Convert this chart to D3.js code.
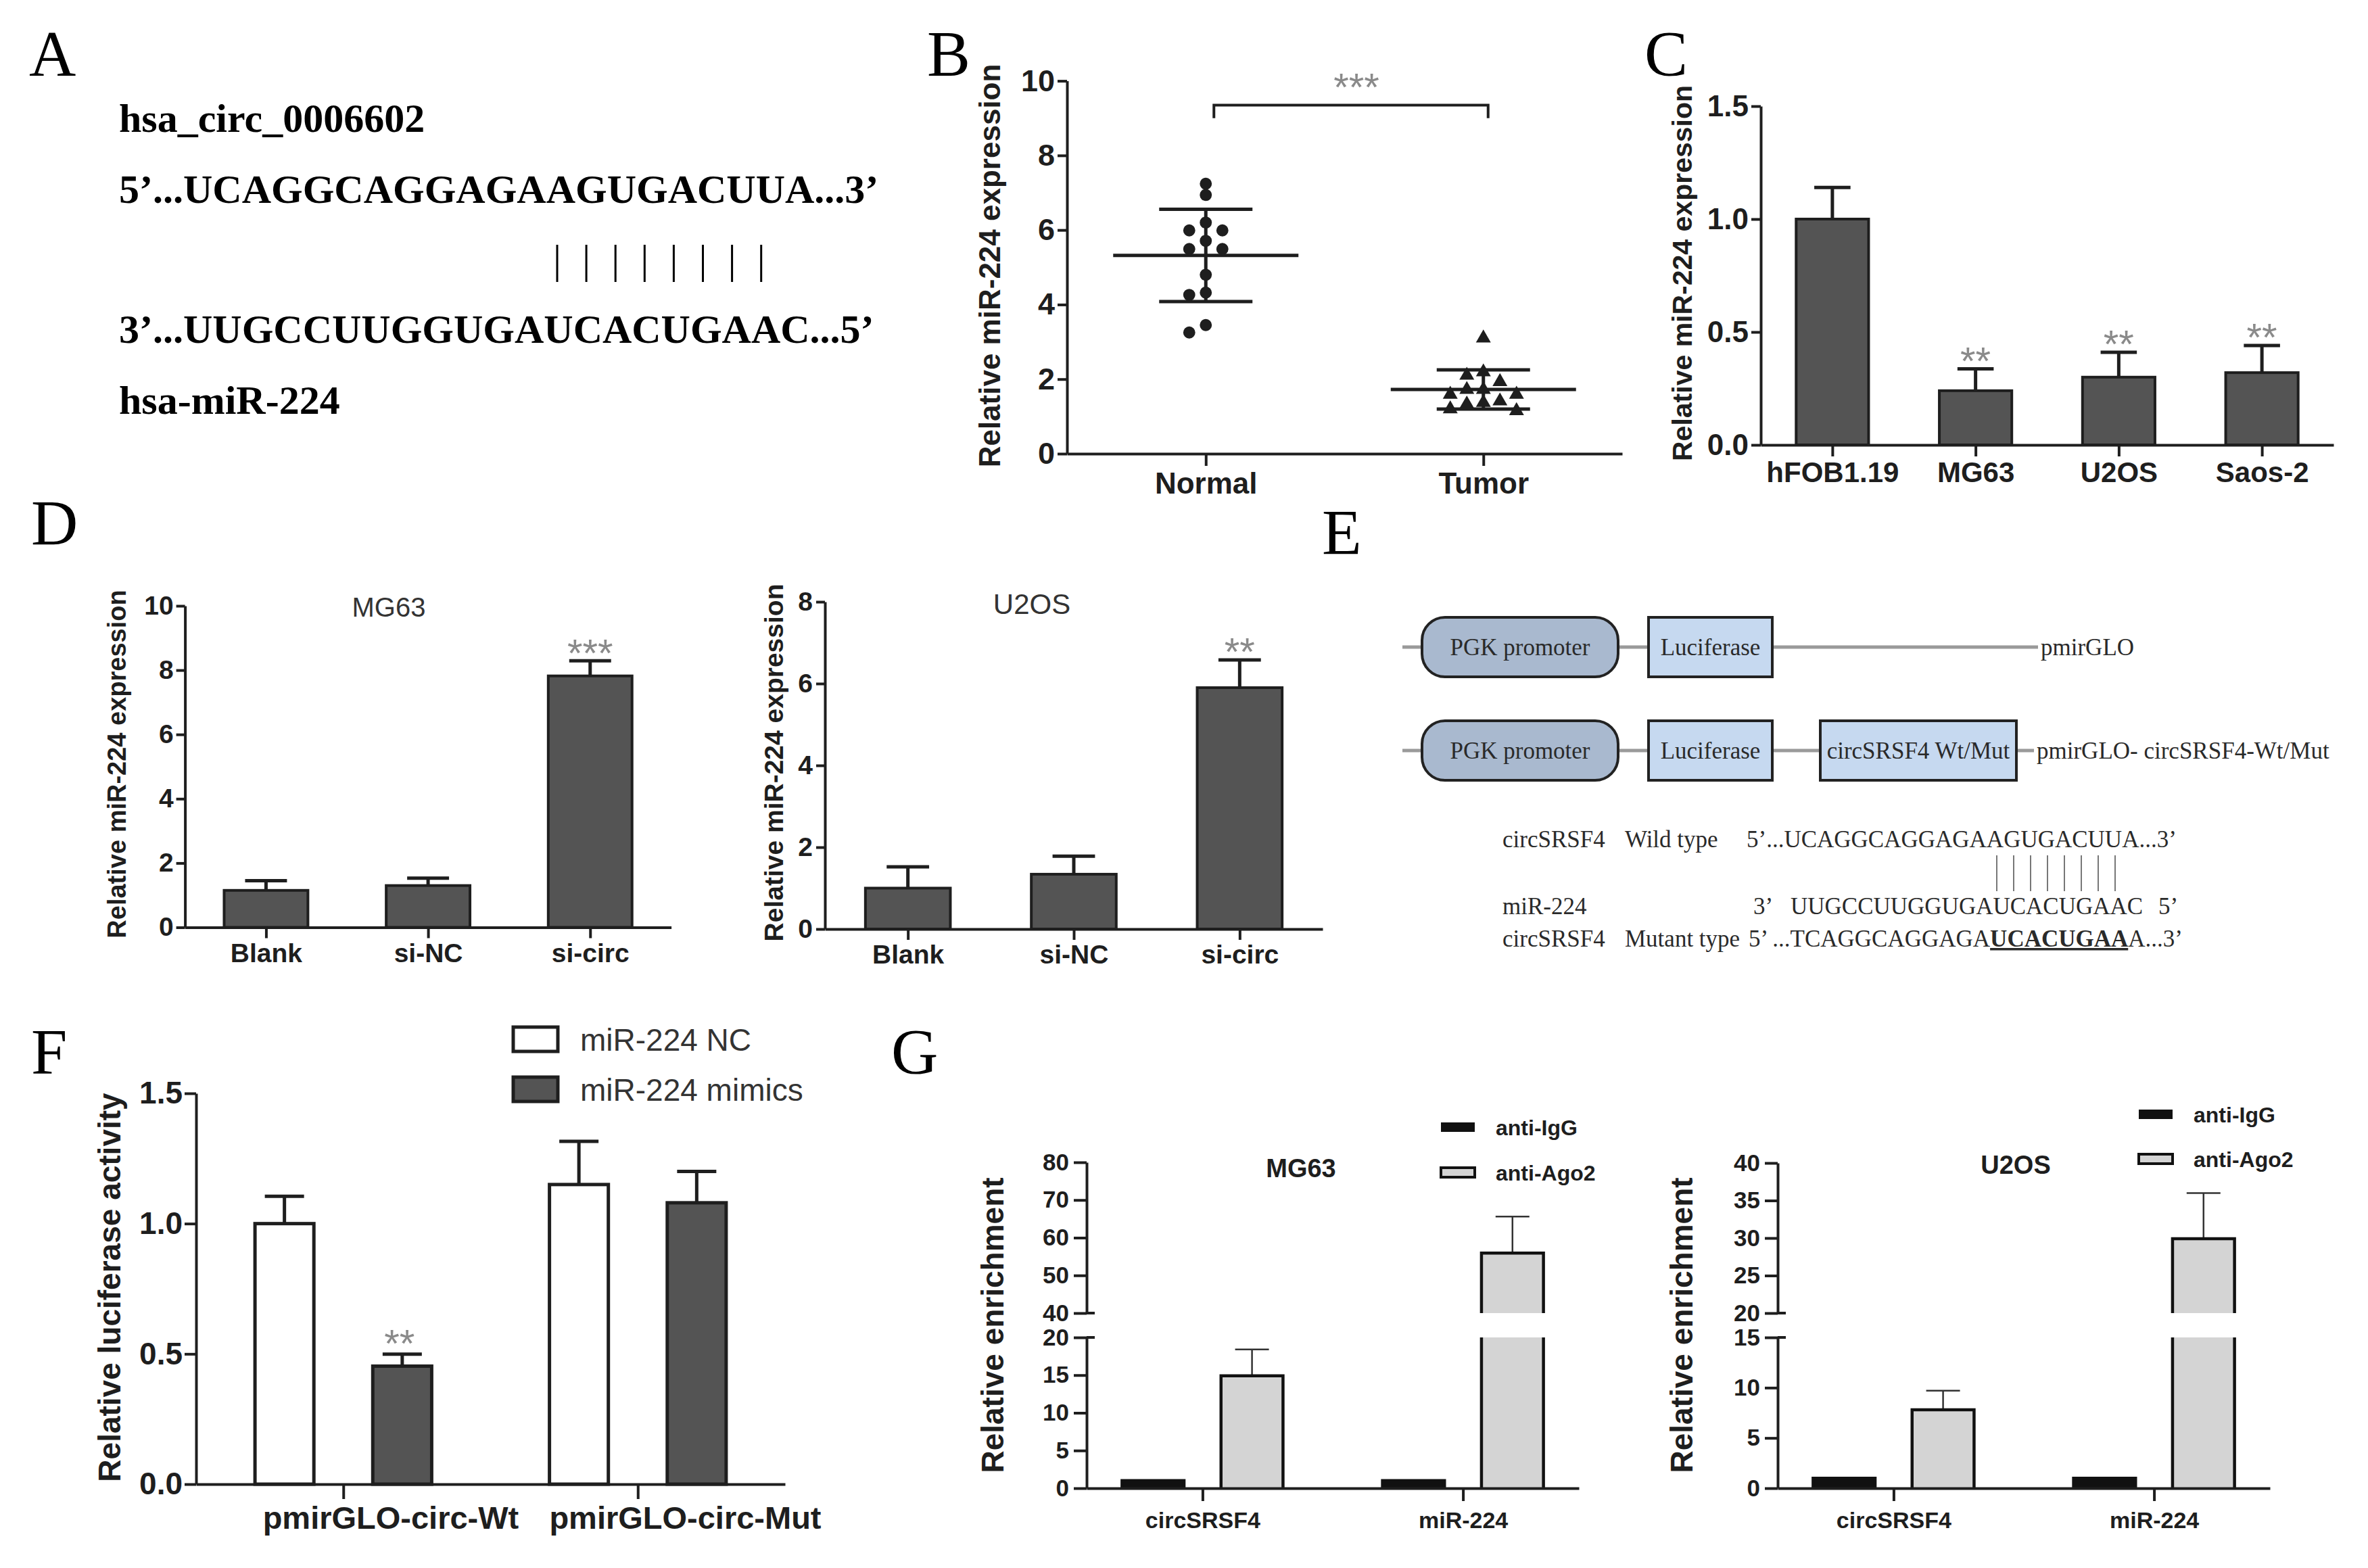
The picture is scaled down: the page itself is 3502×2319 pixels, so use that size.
<!DOCTYPE html>
<html>
<head>
<meta charset="utf-8">
<script src="https://cdn.jsdelivr.net/npm/d3@7"></script>
<style>
  body { margin: 0; background: #fff; }
</style>
</head>
<body>
<div id="main"></div>
<script>
/* ---------------- data ---------------- */
// A: circRNA / miRNA pairing
const circNameA = 'hsa_circ_0006602';
const circSeqA = '5’...UCAGGCAGGAGAAGUGACUUA...3’';
const mirSeqA = '3’...UUGCCUUGGUGAUCACUGAAC...5’';
const mirNameA = 'hsa-miR-224';
const pairCountA = 8;

// B: scatter, tissue samples
const groupsB = ['Normal', 'Tumor'];
const normalB = [7.24, 6.94, 6.2, 5.99, 5.99, 5.71, 5.49, 5.49, 4.8, 4.32, 4.26, 3.45, 3.25];
const tumorB = [3.1, 2.19, 2.1, 1.93, 1.72, 1.72, 1.59, 1.59, 1.41, 1.37, 1.33, 1.2, 1.15];
const ticksB = [0, 2, 4, 6, 8, 10];
const starsB = '***';

// C: cell lines
const cellsC = ['hFOB1.19', 'MG63', 'U2OS', 'Saos-2'];
const meanC = [1.0, 0.24, 0.30, 0.32];
const errC = [0.14, 0.097, 0.11, 0.12];
const starsC = ['', '**', '**', '**'];
const ticksC = [0, 0.5, 1.0, 1.5];

// D: knockdown
const groupsD = ['Blank', 'si-NC', 'si-circ'];
const mg63D = [1.15, 1.30, 7.82];
const mg63ErrD = [0.30, 0.23, 0.47];
const mg63StarsD = ['', '', '***'];
const mg63TicksD = [0, 2, 4, 6, 8, 10];
const u2osD = [1.0, 1.34, 5.9];
const u2osErrD = [0.52, 0.44, 0.68];
const u2osStarsD = ['', '', '**'];
const u2osTicksD = [0, 2, 4, 6, 8];

// E: reporter constructs
const vectorBlocksE = [['PGK promoter', 'Luciferase'], ['PGK promoter', 'Luciferase', 'circSRSF4 Wt/Mut']];
const vectorNamesE = ['pmirGLO', 'pmirGLO- circSRSF4-Wt/Mut'];
const wildRowE = ['circSRSF4', 'Wild type', '5’...UCAGGCAGGAGAAGUGACUUA...3’'];
const mirRowE = ['miR-224', '3’', 'UUGCCUUGGUGAUCACUGAAC', '5’'];
const mutRowE = ['circSRSF4', 'Mutant type', '5’ ...TCAGGCAGGAGA', 'UCACUGAA', 'A...3’'];
const pairCountE = 8;

// F: luciferase
const groupsF = ['pmirGLO-circ-Wt', 'pmirGLO-circ-Mut'];
const seriesF = ['miR-224 NC', 'miR-224 mimics'];
const ncF = [1.0, 1.15];
const ncErrF = [0.105, 0.166];
const mimicsF = [0.453, 1.08];
const mimicsErrF = [0.046, 0.12];
const starsF = [['', ''], ['**', '']];
const ticksF = [0, 0.5, 1.0, 1.5];

// G: RIP
const targetsG = ['circSRSF4', 'miR-224'];
const seriesG = ['anti-IgG', 'anti-Ago2'];
const mg63IgG = [1.0, 1.0];
const mg63IgGErr = [0, 0];
const mg63Ago2 = [14.9, 55.9];
const mg63Ago2Err = [3.5, 9.7];
const mg63LoTicks = [0, 5, 10, 15, 20];
const mg63HiTicks = [40, 50, 60, 70, 80];
const u2osIgG = [1.0, 1.0];
const u2osIgGErr = [0, 0];
const u2osAgo2 = [7.8, 29.9];
const u2osAgo2Err = [1.9, 6.1];
const u2osLoTicks = [0, 5, 10, 15];
const u2osHiTicks = [20, 25, 30, 35, 40];

/* ---------------- setup ---------------- */
const W = 3502, H = 2319;
const ink = '#1e1e1e', barGray = '#545454', starGray = '#8a8a8a';
const sans = '"Liberation Sans", Arial, sans-serif';
const serif = '"Liberation Serif", "Times New Roman", serif';

const svg = d3.select('#main').append('svg')
    .attr('width', W).attr('height', H)
    .style('background', '#fff');

function txt(t, x, y, fs, o) {
    o = o || {};
    return svg.append('text')
        .attr('x', x).attr('y', y)
        .attr('font-family', o.family || sans)
        .attr('font-size', fs)
        .attr('font-weight', o.weight || 'normal')
        .attr('text-anchor', o.anchor || 'start')
        .attr('fill', o.fill || ink)
        .text(t);
}

function yLabel(t, cx, cy, fs) {
    svg.append('text')
        .attr('transform', `translate(${cx},${cy}) rotate(-90)`)
        .attr('text-anchor', 'middle').attr('dy', '0.35em')
        .attr('font-family', sans).attr('font-weight', 'bold')
        .attr('font-size', fs).attr('fill', ink)
        .text(t);
}

function stars(t, cx, cy) {
    const fs = 58;
    txt(t, cx, cy + 0.575 * fs, fs, { anchor: 'middle', fill: starGray });
}

function styleAxis(g, fs, weight) {
    g.attr('font-family', sans).attr('font-size', fs)
     .attr('font-weight', weight || 'bold').attr('color', ink);
    g.select('.domain').attr('stroke-width', 4);
    g.selectAll('.tick line').attr('stroke-width', 4);
}

function yAxis(scale, ticks, fmt, x, fs, len, pad) {
    const g = svg.append('g').attr('transform', `translate(${x},0)`)
        .call(d3.axisLeft(scale).tickValues(ticks).tickFormat(fmt)
            .tickSize(len).tickSizeOuter(0).tickPadding(pad));
    styleAxis(g, fs);
    return g;
}

function xAxis(scale, y, fs, len, pad) {
    const g = svg.append('g').attr('transform', `translate(0,${y})`)
        .call(d3.axisBottom(scale).tickSize(len).tickSizeOuter(0).tickPadding(pad));
    styleAxis(g, fs);
    return g;
}

/* ---------------- panel letters ---------------- */
const letters = ['A', 'B', 'C', 'D', 'E', 'F', 'G'];
const letterPos = [[43, 112], [1371, 112], [2432, 112], [46, 806], [1955, 820], [46, 1588], [1318, 1588]];
letters.forEach((l, i) => txt(l, letterPos[i][0], letterPos[i][1], 96, { family: serif, fill: '#000' }));

/* ---------------- A ---------------- */
const aOpt = { family: serif, weight: 'bold', fill: '#000' };
txt(circNameA, 176, 195, 60, aOpt);
txt(circSeqA, 176, 300, 60, aOpt);
txt(mirSeqA, 176, 507, 60, aOpt);
txt(mirNameA, 176, 612, 60, aOpt);
svg.append('g').selectAll('line')
    .data(d3.range(pairCountA))
    .join('line')
    .attr('x1', i => 824 + i * 43.1).attr('x2', i => 824 + i * 43.1)
    .attr('y1', 362).attr('y2', 417)
    .attr('stroke', '#000').attr('stroke-width', 3);

/* ---------------- B ---------------- */
(function () {
    const y = d3.scaleLinear().domain([0, 10]).range([671, 119.6]);
    const x = d3.scalePoint().domain(groupsB).range([1578, 2399]).padding(0.5);
    const g = svg.append('g');

    function swarm(vals, gap) {
        const placed = [];
        return vals.map(v => {
            const py = y(v);
            for (let k = 0; ; k++) {
                const s = k === 0 ? 0 : (k % 2 ? -Math.ceil(k / 2) : k / 2);
                if (!placed.some(p => p.s === s && Math.abs(p.py - py) < gap)) {
                    placed.push({ s, py });
                    return { s, py };
                }
            }
        });
    }

    const sets = [normalB, tumorB];
    const shapes = [d3.symbolCircle, d3.symbolTriangle];
    sets.forEach((vals, gi) => {
        const cx = x(groupsB[gi]);
        const m = d3.mean(vals), sd = d3.deviation(vals);
        g.append('path')
            .attr('d', `M${cx - 137},${y(m)}H${cx + 137}` +
                `M${cx},${y(m - sd)}V${y(m + sd)}` +
                `M${cx - 69},${y(m - sd)}H${cx + 69}M${cx - 69},${y(m + sd)}H${cx + 69}`)
            .attr('stroke', ink).attr('stroke-width', 5).attr('fill', 'none');
        g.selectAll(null)
            .data(swarm(vals, gi ? 19 : 16))
            .join('path')
            .attr('transform', p => `translate(${cx + p.s * 24.5},${p.py})`)
            .attr('d', d3.symbol().type(shapes[gi]).size(gi ? 210 : 250))
            .attr('fill', ink);
    });

    // significance bracket
    const x1 = x(groupsB[0]) + 12, x2 = x(groupsB[1]) + 7;
    g.append('path')
        .attr('d', `M${x1},${y(9.0)}V${y(9.35)}H${x2}V${y(9.0)}`)
        .attr('stroke', ink).attr('stroke-width', 4).attr('fill', 'none');
    stars(starsB, (x1 + x2) / 2 + 8, y(9.35) - 40);

    yAxis(y, ticksB, d3.format('d'), 1578, 45, 14, 4);
    xAxis(x, 671, 44, 18, 10);
    yLabel('Relative miR-224 expression', 1464, 393, 44);
})();

/* ---------------- simple bar panels (C, D) ---------------- */
function simpleBars(o) {
    const y = d3.scaleLinear().domain(o.domain).range([o.yBottom, o.yTop]);
    const x = d3.scalePoint().domain(o.cats).range([o.axisX, o.xEnd]).padding(0.5);
    const bw = x.step() * o.barFrac, cw = bw * 0.5;
    const rows = o.cats.map((c, i) => ({ c, v: o.values[i], e: o.errors[i], s: o.stars[i] }));
    const g = svg.append('g');

    g.selectAll('path.err').data(rows).join('path')
        .attr('class', 'err')
        .attr('d', d => `M${x(d.c)},${y(d.v)}V${y(d.v + d.e)}M${x(d.c) - cw / 2},${y(d.v + d.e)}H${x(d.c) + cw / 2}`)
        .attr('stroke', ink).attr('stroke-width', 5).attr('fill', 'none');

    g.selectAll('rect').data(rows).join('rect')
        .attr('x', d => x(d.c) - bw / 2)
        .attr('width', bw)
        .attr('y', d => y(d.v))
        .attr('height', d => y(0) - y(d.v))
        .attr('fill', barGray).attr('stroke', ink).attr('stroke-width', 4);

    rows.filter(d => d.s).forEach(d => stars(d.s, x(d.c), y(d.v + d.e) - 25));

    yAxis(y, o.ticks, o.fmt, o.axisX, o.tickFs, o.yTick, o.yPad);
    xAxis(x, o.yBottom, o.catFs, o.xTick, o.xPad);
    yLabel('Relative miR-224 expression', o.ylx, o.yly, o.ylFs);
    if (o.title) txt(o.title, o.titleX, o.titleY, o.titleFs, { anchor: 'middle', fill: '#333' }).attr('dy', '0.36em');
}

simpleBars({
    cats: cellsC, values: meanC, errors: errC, stars: starsC,
    domain: [0, 1.5], ticks: ticksC, fmt: d3.format('.1f'),
    axisX: 2604, xEnd: 3451, yBottom: 658, yTop: 157, barFrac: 0.506,
    tickFs: 44, catFs: 42, yTick: 14, yPad: 4, xTick: 17, xPad: 8,
    ylx: 2488, yly: 404, ylFs: 41
});

simpleBars({
    cats: groupsD, values: mg63D, errors: mg63ErrD, stars: mg63StarsD,
    domain: [0, 10], ticks: mg63TicksD, fmt: d3.format('d'),
    axisX: 273.6, xEnd: 992.6, yBottom: 1371.5, yTop: 896, barFrac: 0.517,
    tickFs: 39, catFs: 39, yTick: 13, yPad: 4, xTick: 16, xPad: 8,
    ylx: 173, yly: 1130, ylFs: 38,
    title: 'MG63', titleX: 575, titleY: 898, titleFs: 40
});

simpleBars({
    cats: groupsD, values: u2osD, errors: u2osErrD, stars: u2osStarsD,
    domain: [0, 8], ticks: u2osTicksD, fmt: d3.format('d'),
    axisX: 1220, xEnd: 1956, yBottom: 1374, yTop: 890, barFrac: 0.512,
    tickFs: 39, catFs: 39, yTick: 13, yPad: 5, xTick: 16, xPad: 7,
    ylx: 1144, yly: 1128, ylFs: 39,
    title: 'U2OS', titleX: 1526, titleY: 893, titleFs: 42
});

/* ---------------- E ---------------- */
(function () {
    const rowY = [957, 1110];
    const lineEnd = [3014, 3008];
    const blockX = [[2103, 2393], [2438, 2621], [2692, 2982]];
    const bh = 88;
    const eOpt = { family: serif, fill: '#2a2a2a' };

    vectorBlocksE.forEach((blocks, r) => {
        const cy = rowY[r];
        svg.append('line')
            .attr('x1', 2074).attr('x2', lineEnd[r]).attr('y1', cy).attr('y2', cy)
            .attr('stroke', '#9a9a9a').attr('stroke-width', 5);
        blocks.forEach((b, i) => {
            const [bx0, bx1] = blockX[i];
            svg.append('rect')
                .attr('x', bx0).attr('y', cy - bh / 2)
                .attr('width', bx1 - bx0).attr('height', bh)
                .attr('rx', i === 0 ? 34 : 0)
                .attr('fill', i === 0 ? '#a9b9cf' : '#c6d9f0')
                .attr('stroke', '#222').attr('stroke-width', 4);
            txt(b, (bx0 + bx1) / 2, cy + 12, 35, Object.assign({ anchor: 'middle' }, eOpt));
        });
        txt(vectorNamesE[r], lineEnd[r] + 4, cy + 12, 35, eOpt);
    });

    txt(wildRowE[0], 2222, 1253, 35, eOpt);
    txt(wildRowE[1], 2403, 1253, 35, eOpt);
    txt(wildRowE[2], 2583, 1253, 35, eOpt);

    txt(mirRowE[0], 2222, 1352, 35, eOpt);
    txt(mirRowE[1], 2593, 1352, 35, eOpt);
    txt(mirRowE[2], 2648, 1352, 35, eOpt);
    txt(mirRowE[3], 3192, 1352, 35, eOpt);

    txt(mutRowE[0], 2222, 1400, 35, eOpt);
    txt(mutRowE[1], 2403, 1400, 35, eOpt);
    const mt = txt('', 2586, 1400, 35, eOpt);
    mt.append('tspan').text(mutRowE[2]);
    mt.append('tspan').text(mutRowE[3]).attr('font-weight', 'bold').attr('text-decoration', 'underline');
    mt.append('tspan').text(mutRowE[4]);

    svg.append('g').selectAll('line')
        .data(d3.range(pairCountE))
        .join('line')
        .attr('x1', i => 2953 + i * 25).attr('x2', i => 2953 + i * 25)
        .attr('y1', 1265).attr('y2', 1318)
        .attr('stroke', '#555').attr('stroke-width', 1.6);
})();

/* ---------------- F ---------------- */
(function () {
    const y = d3.scaleLinear().domain([0, 1.5]).range([2195, 1617]);
    const x = d3.scalePoint().domain(groupsF).range([290, 1161]).padding(0.5);
    const step = x.step();
    const sub = d3.scalePoint().domain(seriesF).range([-0.2 * step, 0.2 * step]);
    const bw = 0.2 * step, cw = 58;
    const vals = [ncF, mimicsF], errs = [ncErrF, mimicsErrF], fills = ['#fff', barGray];
    const g = svg.append('g');

    seriesF.forEach((s, si) => {
        const rows = groupsF.map((c, i) => ({ cx: x(c) + sub(s), v: vals[si][i], e: errs[si][i], st: starsF[si][i] }));
        g.selectAll(null).data(rows).join('path')
            .attr('d', d => `M${d.cx},${y(d.v)}V${y(d.v + d.e)}M${d.cx - cw / 2},${y(d.v + d.e)}H${d.cx + cw / 2}`)
            .attr('stroke', ink).attr('stroke-width', 5).attr('fill', 'none');
        g.selectAll(null).data(rows).join('rect')
            .attr('x', d => d.cx - bw / 2).attr('width', bw)
            .attr('y', d => y(d.v)).attr('height', d => y(0) - y(d.v))
            .attr('fill', fills[si]).attr('stroke', ink).attr('stroke-width', 5);
        rows.filter(d => d.st).forEach(d => stars(d.st, d.cx - 4, y(d.v + d.e) - 29));
    });

    yAxis(y, ticksF, d3.format('.1f'), 290, 46, 17, 3);
    const xa = xAxis(x, 2195, 47, 22, 11);
    xa.selectAll('.tick text').attr('dx', 0.16 * step);
    yLabel('Relative luciferase activity', 162, 1904, 46);

    // legend
    seriesF.forEach((s, si) => {
        const ly = [1537, 1611][si];
        svg.append('rect').attr('x', 759).attr('y', ly - 18).attr('width', 66).attr('height', 36)
            .attr('fill', fills[si]).attr('stroke', ink).attr('stroke-width', 5);
        txt(s, 858, ly, 46, { fill: '#333' }).attr('dy', '0.36em');
    });
})();

/* ---------------- G ---------------- */
function brokenBars(o) {
    const yLo = d3.scaleLinear().domain(o.loDomain).range([2201, 1978]);
    const yHi = d3.scaleLinear().domain(o.hiDomain).range([1942, o.hiTop]);
    const loMax = o.loDomain[1], hiMin = o.hiDomain[0];
    const yv = v => v <= loMax ? yLo(v) : yHi(v);
    const x = d3.scalePoint().domain(targetsG).range([o.axisX, o.xEnd]).padding(0.445);
    const step = x.step();
    const sub = d3.scalePoint().domain(seriesG).range([-0.19 * step, 0.19 * step]);
    const bw = 0.238 * step, cw = 50;
    const fills = ['#111', '#d4d4d4'];
    const g = svg.append('g');

    seriesG.forEach((s, si) => {
        targetsG.forEach((c, i) => {
            const cx = x(c) + sub(s), v = o.vals[si][i], e = o.errs[si][i];
            const x0 = cx - bw / 2, x1 = cx + bw / 2;
            if (e > 0) {
                g.append('path')
                    .attr('d', `M${cx},${yv(v)}V${yv(v + e)}M${cx - cw / 2},${yv(v + e)}H${cx + cw / 2}`)
                    .attr('stroke', '#333').attr('stroke-width', 2.5).attr('fill', 'none');
            }
            let outline;
            if (v <= loMax) {
                g.append('rect').attr('x', x0).attr('width', bw)
                    .attr('y', yLo(v)).attr('height', yLo(0) - yLo(v)).attr('fill', fills[si]);
                outline = `M${x0},${yLo(0)}V${yLo(v)}H${x1}V${yLo(0)}`;
            } else {
                g.append('rect').attr('x', x0).attr('width', bw)
                    .attr('y', yLo(loMax)).attr('height', yLo(0) - yLo(loMax)).attr('fill', fills[si]);
                g.append('rect').attr('x', x0).attr('width', bw)
                    .attr('y', yHi(v)).attr('height', yHi(hiMin) - yHi(v)).attr('fill', fills[si]);
                outline = `M${x0},${yLo(0)}V${yLo(loMax)}M${x1},${yLo(0)}V${yLo(loMax)}` +
                    `M${x0},${yHi(hiMin)}V${yHi(v)}H${x1}V${yHi(hiMin)}`;
            }
            g.append('path').attr('d', outline)
                .attr('stroke', '#111').attr('stroke-width', 4.5).attr('fill', 'none');
        });
    });

    yAxis(yLo, o.loTicks, d3.format('d'), o.axisX, 35, 19, 7);
    yAxis(yHi, o.hiTicks, d3.format('d'), o.axisX, 35, 19, 7);
    // break marks
    [yLo(loMax), yHi(hiMin)].forEach(by => {
        svg.append('line').attr('x1', o.axisX).attr('x2', o.axisX + 12)
            .attr('y1', by).attr('y2', by).attr('stroke', ink).attr('stroke-width', 4);
    });
    xAxis(x, 2201, 34, 19, 16);
    yLabel('Relative enrichment', o.ylx, 1960, 46);
    txt(o.title, o.titleX, o.titleY, 38, { anchor: 'middle', weight: 'bold' }).attr('dy', '0.36em');

    // legend
    seriesG.forEach((s, si) => {
        const ly = o.legY[si];
        svg.append('rect').attr('x', o.legX).attr('y', ly - 7).attr('width', 50).attr('height', 14)
            .attr('fill', fills[si]).attr('stroke', '#111').attr('stroke-width', si ? 4 : 0);
        txt(s, o.legX + 81, ly, 32, { weight: 'bold' }).attr('dy', '0.36em');
    });
}

brokenBars({
    vals: [mg63IgG, mg63Ago2], errs: [mg63IgGErr, mg63Ago2Err],
    loDomain: [0, 20], hiDomain: [40, 80], hiTop: 1719,
    loTicks: mg63LoTicks, hiTicks: mg63HiTicks,
    axisX: 1607, xEnd: 2335, ylx: 1468,
    title: 'MG63', titleX: 1924, titleY: 1727,
    legX: 2131, legY: [1667, 1734]
});

brokenBars({
    vals: [u2osIgG, u2osAgo2], errs: [u2osIgGErr, u2osAgo2Err],
    loDomain: [0, 15], hiDomain: [20, 40], hiTop: 1720,
    loTicks: u2osLoTicks, hiTicks: u2osHiTicks,
    axisX: 2629, xEnd: 3357, ylx: 2487,
    title: 'U2OS', titleX: 2981, titleY: 1722,
    legX: 3163, legY: [1648, 1714]
});
</script>
</body>
</html>
